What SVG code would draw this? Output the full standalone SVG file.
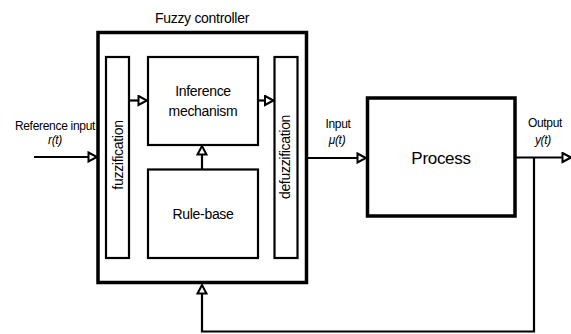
<svg xmlns="http://www.w3.org/2000/svg" width="571" height="334" viewBox="0 0 571 334">
<style>
text{font-family:"Liberation Sans",Arial,sans-serif;fill:#000}
.thick{fill:none;stroke:#000;stroke-width:3.5}
.thin{fill:none;stroke:#000;stroke-width:2.2}
.wire{fill:none;stroke:#000;stroke-width:2.2}
.lbl{font-size:12px;letter-spacing:-0.3px}
.box{font-size:14px;letter-spacing:-0.3px}
</style>
<defs>
<marker id="arr" viewBox="0 0 12 12" markerWidth="12" markerHeight="12" refX="10" refY="6" orient="auto" markerUnits="userSpaceOnUse">
<path d="M1.5,1.5 L10,6 L1.5,10.5 Z" fill="#fff" stroke="#000" stroke-width="2"/>
</marker>
</defs>
<rect width="571" height="334" fill="#fff"/>
<g id="fuzzy-controller">
<rect class="thick" x="98" y="32.5" width="208.5" height="250"/>
<text x="202" y="23" text-anchor="middle" style="font-size:14px;letter-spacing:-0.3px">Fuzzy controller</text>
</g>
<g id="fuzzification">
<rect class="thin" x="106" y="57" width="23" height="201"/>
<text class="box" transform="translate(123,155) rotate(-90)" text-anchor="middle">fuzzification</text>
</g>
<g id="inference">
<rect class="thin" x="148" y="57" width="110" height="88"/>
<text class="box" x="203" y="96" text-anchor="middle">Inference</text>
<text class="box" x="203" y="116" text-anchor="middle">mechanism</text>
</g>
<g id="rule-base">
<rect class="thin" x="148" y="169.5" width="110" height="88.5"/>
<text class="box" x="203" y="219" text-anchor="middle">Rule-base</text>
</g>
<g id="defuzzification">
<rect class="thin" x="274.5" y="57" width="23" height="201"/>
<text class="box" transform="translate(290,157) rotate(-90)" text-anchor="middle">defuzzification</text>
</g>
<g id="process">
<rect class="thick" x="367.5" y="98" width="147.5" height="118"/>
<text x="441" y="164" text-anchor="middle" style="font-size:17px;letter-spacing:-0.3px">Process</text>
</g>
<g id="connectors">
<line class="wire" x1="34" y1="157" x2="97" y2="157" marker-end="url(#arr)"/>
<line class="wire" x1="129" y1="100.5" x2="147" y2="100.5" marker-end="url(#arr)"/>
<line class="wire" x1="258" y1="100.5" x2="273.5" y2="100.5" marker-end="url(#arr)"/>
<line class="wire" x1="202" y1="169" x2="202" y2="146" marker-end="url(#arr)"/>
<line class="wire" x1="306" y1="158" x2="366" y2="158" marker-end="url(#arr)"/>
<line class="wire" x1="515" y1="157.5" x2="571" y2="157.5" marker-end="url(#arr)"/>
<polyline class="wire" points="534,157.5 534,331.5 202,331.5 202,285" marker-end="url(#arr)"/>
</g>
<g id="labels">
<text class="lbl" x="55" y="130" text-anchor="middle">Reference input</text>
<text class="lbl" x="55" y="144" text-anchor="middle" font-style="italic">r(t)</text>
<text class="lbl" x="338" y="128" text-anchor="middle">Input</text>
<text class="lbl" x="337" y="144" text-anchor="middle" font-style="italic">μ(t)</text>
<text class="lbl" x="545" y="127" text-anchor="middle">Output</text>
<text class="lbl" x="543" y="144" text-anchor="middle" font-style="italic">y(t)</text>
</g>
</svg>
